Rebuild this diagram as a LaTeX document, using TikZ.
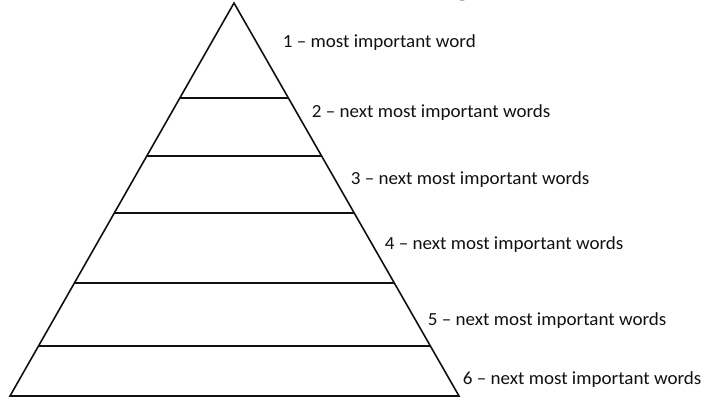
\documentclass[tikz,border=0pt]{standalone}
\usepackage{fontspec}
\setmainfont{Carlito}
\usepackage{xcolor}
\definecolor{InkBlack}{HTML}{111111}
\usepackage{tikz}
\usetikzlibrary{calc}

\begin{document}
\begin{tikzpicture}[x=1pt, y=-1pt, line width=1.6pt]
  % Pyramid of word importance (1 px = 1 pt)
  \tikzset{
    rung/.style={InkBlack, line width=1.5pt},
    rank/.style={anchor=base west, inner sep=0pt, font=\fontsize{18.5}{22}\selectfont, text=InkBlack, xscale=1.03}
  }
  \useasboundingbox (0,0) rectangle (704,398);

  % Corners of the pyramid
  \coordinate (A)  at (234,3);     % apex
  \coordinate (BL) at (10,396);    % bottom left
  \coordinate (BR) at (459,396);   % bottom right

  % Outline
  \draw[InkBlack, line join=miter] (BL) -- (A) -- (BR) -- cycle;

  % Rungs (fraction of the way down from the apex)
  \draw[rung] ($(A)!0.2417!(BL)$) coordinate (L1) -- ($(A)!0.2417!(BR)$) coordinate (R1);
  \draw[rung] ($(A)!0.3893!(BL)$) coordinate (L2) -- ($(A)!0.3893!(BR)$) coordinate (R2);
  \draw[rung] ($(A)!0.5343!(BL)$) coordinate (L3) -- ($(A)!0.5343!(BR)$) coordinate (R3);
  \draw[rung] ($(A)!0.7125!(BL)$) coordinate (L4) -- ($(A)!0.7125!(BR)$) coordinate (R4);
  \draw[rung] ($(A)!0.8728!(BL)$) coordinate (L5) -- ($(A)!0.8728!(BR)$) coordinate (R5);

  % Labels
  \node[rank] (one)   at (282,48)  {1 -- most important word};
  \node[rank] (two)   at (311,118) {2 -- next most important words};
  \node[rank] (three) at (350,185) {3 -- next most important words};
  \node[rank] (four)  at (384,249) {4 -- next most important words};
  \node[rank] (five)  at (427,325) {5 -- next most important words};
  \node[rank] (six)   at (462,384) {6 -- next most important words};

  % Title, cut off by the top edge
  \begin{scope}
    \clip (0,0) rectangle (704,398);
    \node[anchor=base, inner sep=0pt, font=\fontsize{40}{44}\selectfont\bfseries, text=InkBlack] (title) at (466,-5) {y};
  \end{scope}
\end{tikzpicture}
\end{document}
